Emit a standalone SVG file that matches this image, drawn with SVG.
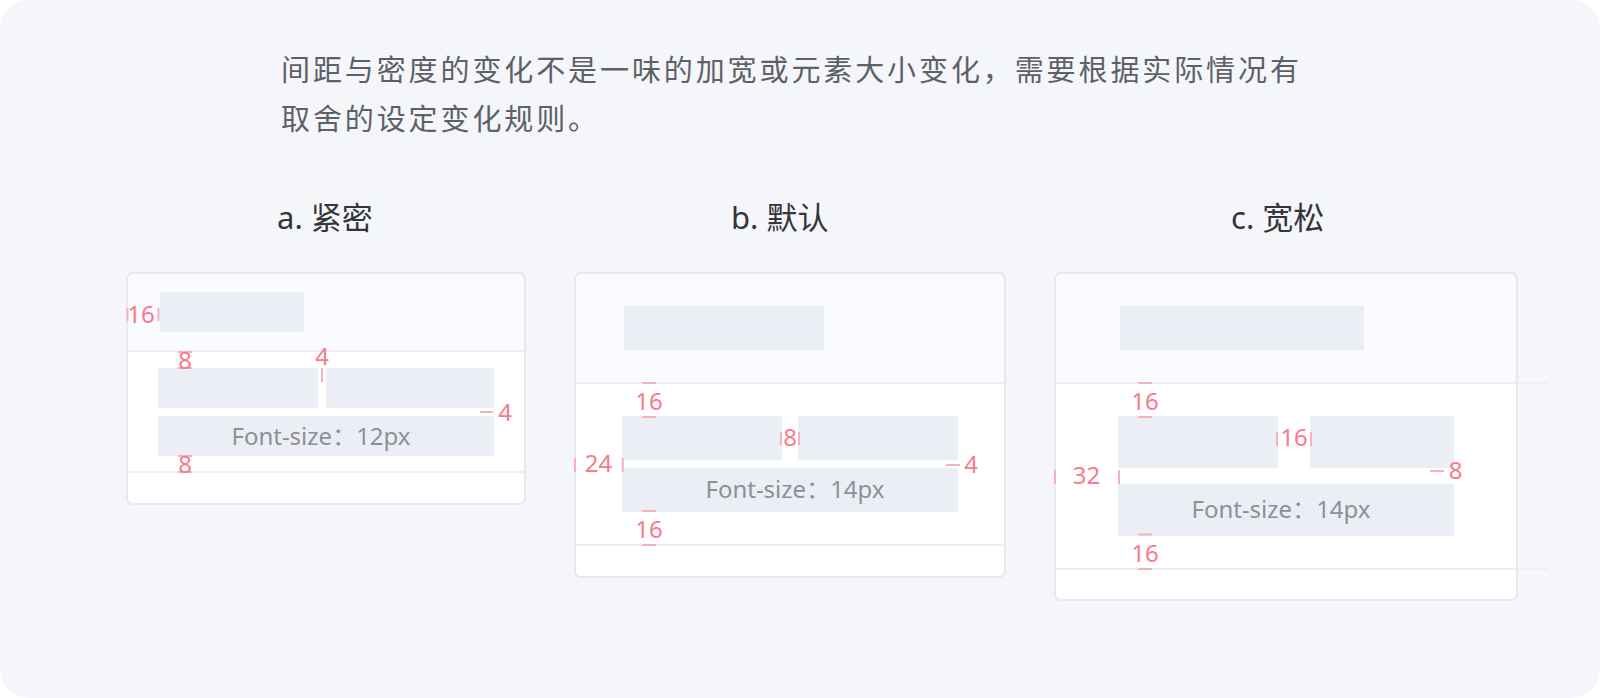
<svg xmlns="http://www.w3.org/2000/svg" width="1600" height="698" viewBox="0 0 1600 698">
<style>
.title{font-family:"Noto Sans","Noto Sans CJK SC",sans-serif;font-size:29px;letter-spacing:2.9px;fill:#5e6067}
.lab{font-family:"Noto Sans","Noto Sans CJK SC",sans-serif;font-size:31px;fill:#333539}
.card{fill:#ffffff;stroke:none}
.cardb{fill:none;stroke:#e7e9f0;stroke-width:2}
.head{fill:#fafbfe}
.sep{stroke:#edeff5;stroke-width:2}
.ph{fill:#ebeef5}
.fs{font-family:"Noto Sans","Noto Sans CJK SC",sans-serif;font-size:24px;fill:#8e9097;text-anchor:middle}
.num{font-family:"Noto Sans","Noto Sans CJK SC",sans-serif;font-size:24px;fill:#fa798c;text-anchor:middle}
.tk{stroke:#f9b0bb;stroke-width:2;fill:none}
</style>
<rect x="0" y="0" width="1600" height="698" fill="#ffffff"/>
<rect x="0" y="0" width="1600" height="698" rx="28" fill="#f5f6fa"/>

<g id="title">
<text class="title" x="281" y="81">间距与密度的变化不是一味的加宽或元素大小变化，需要根据实际情况有</text>
<text class="title" x="281" y="129.5">取舍的设定变化规则。</text>
</g>

<g id="label-a"><text class="lab" x="277" y="228.5">a. 紧密</text></g>
<g id="label-b"><text class="lab" x="731" y="228.5">b. 默认</text></g>
<g id="label-c"><text class="lab" x="1231" y="228.5">c. 宽松</text></g>

<g id="card-a">
<rect class="card" x="127" y="273" width="398" height="231" rx="6"/>
<path class="head" d="M127,351 V279 Q127,273 133,273 H519 Q525,273 525,279 V351 Z"/>
<line class="sep" x1="127" y1="351" x2="525" y2="351"/>
<line class="sep" x1="127" y1="472" x2="525" y2="472"/>
<rect class="cardb" x="127" y="273" width="398" height="231" rx="6"/>
<rect class="ph" x="160" y="292" width="144" height="40"/>
<rect class="ph" x="158" y="368" width="160" height="40"/>
<rect class="ph" x="326" y="368" width="168" height="40"/>
<rect class="ph" x="158" y="416" width="336" height="40"/>
<text class="fs" x="321" y="445">Font-size：12px</text>
</g>

<g id="card-b">
<rect class="card" x="575" y="273" width="430" height="304" rx="6"/>
<path class="head" d="M575,383 V279 Q575,273 581,273 H999 Q1005,273 1005,279 V383 Z"/>
<line class="sep" x1="575" y1="383" x2="1005" y2="383"/>
<line class="sep" x1="575" y1="545" x2="1005" y2="545"/>
<rect class="cardb" x="575" y="273" width="430" height="304" rx="6"/>
<rect class="ph" x="624" y="306" width="200" height="44"/>
<rect class="ph" x="622" y="416" width="160" height="44"/>
<rect class="ph" x="798" y="416" width="160" height="44"/>
<rect class="ph" x="622" y="468" width="336" height="44"/>
<text class="fs" x="795" y="497.5">Font-size：14px</text>
</g>

<g id="card-c">
<rect class="card" x="1055" y="273" width="462" height="327" rx="6"/>
<path class="head" d="M1055,383 V279 Q1055,273 1061,273 H1511 Q1517,273 1517,279 V383 Z"/>
<line class="sep" x1="1055" y1="383" x2="1548" y2="383"/>
<line class="sep" x1="1055" y1="569" x2="1548" y2="569"/>
<rect class="cardb" x="1055" y="273" width="462" height="327" rx="6"/>
<rect class="ph" x="1120" y="306" width="244" height="44"/>
<rect class="ph" x="1118" y="416" width="160" height="52"/>
<rect class="ph" x="1310" y="416" width="144" height="52"/>
<rect class="ph" x="1118" y="484" width="336" height="52"/>
<text class="fs" x="1281" y="518.3">Font-size：14px</text>
</g>

<g id="annotations">
<path class="tk" d="M127.5,308 V321 M158.5,308 V321"/>
<text class="num" x="141" y="323">16</text>
<path class="tk" d="M178,352 H192 M178,368 H192"/>
<text class="num" x="185" y="369">8</text>
<text class="num" x="322" y="364.5">4</text>
<path class="tk" d="M322,368 V382"/>
<path class="tk" d="M480,412 H493"/>
<text class="num" x="505" y="420.5">4</text>
<path class="tk" d="M178,456 H192 M178,472 H192"/>
<text class="num" x="185" y="472.5">8</text>
<path class="tk" d="M642,383 H656 M642,417 H656"/>
<text class="num" x="649" y="410">16</text>
<path class="tk" d="M781,432 V445 M799,432 V445"/>
<text class="num" x="790" y="446">8</text>
<path class="tk" d="M575,458 V472 M622.7,458 V472"/>
<text class="num" x="598.5" y="472">24</text>
<path class="tk" d="M946,465 H960"/>
<text class="num" x="971" y="472.5">4</text>
<path class="tk" d="M642,511 H656 M642,545 H656"/>
<text class="num" x="649" y="538.3">16</text>
<path class="tk" d="M1138,383 H1152 M1138,417 H1152"/>
<text class="num" x="1145" y="410">16</text>
<path class="tk" d="M1277,432 V446 M1311,432 V446"/>
<text class="num" x="1294" y="446">16</text>
<path class="tk" d="M1055,470 V484 M1119,470 V484"/>
<text class="num" x="1086.5" y="484.3">32</text>
<path class="tk" d="M1430,471 H1444"/>
<text class="num" x="1455.5" y="478.6">8</text>
<path class="tk" d="M1138,534.5 H1152 M1138,569 H1152"/>
<text class="num" x="1145" y="562">16</text>
</g>
</svg>
